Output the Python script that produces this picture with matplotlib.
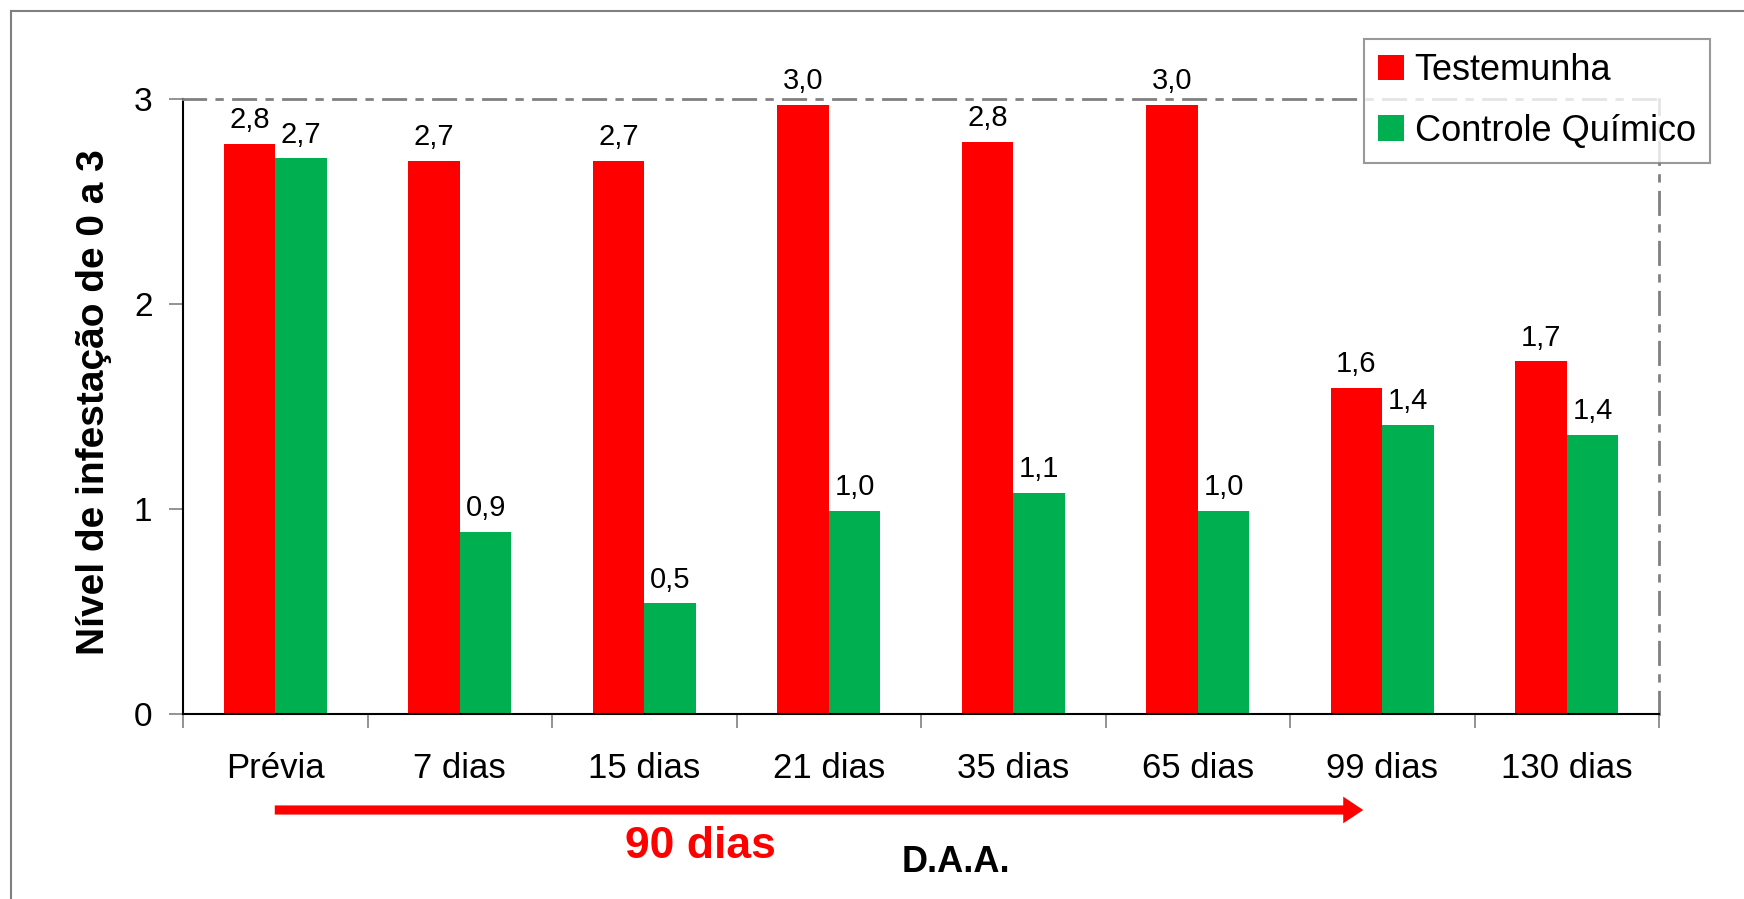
import matplotlib.pyplot as plt
from matplotlib.lines import Line2D
from matplotlib.patches import FancyArrowPatch
import numpy as np

plt.rcParams['font.family'] = ['Liberation Sans', 'DejaVu Sans']

categorias = ["Prévia", "7 dias", "15 dias", "21 dias", "35 dias", "65 dias", "99 dias", "130 dias"]
testemunha = [2.78, 2.70, 2.70, 2.97, 2.79, 2.97, 1.59, 1.72]
controle = [2.71, 0.89, 0.54, 0.99, 1.08, 0.99, 1.41, 1.36]
yticks = [0, 1, 2, 3]

cor_test = "#FF0000"
cor_ctrl = "#00B050"
cinza = "#808080"

fig = plt.figure(figsize=(17.44, 8.99), dpi=100)
ax = fig.add_axes([183/1744, 1-714/899, (1659-183)/1744, (714-99)/899])

x = np.arange(len(categorias))
w = 0.28
b1 = ax.bar(x - w/2, testemunha, w, color=cor_test, label="Testemunha")
b2 = ax.bar(x + w/2, controle, w, color=cor_ctrl, label="Controle Químico")

for bars, vals in [(b1, testemunha), (b2, controle)]:
    for r, v in zip(bars, vals):
        ax.annotate(f"{v:.1f}".replace(".", ","), (r.get_x() + r.get_width()/2, v),
                    xytext=(0, 7), textcoords="offset points",
                    ha="center", va="bottom", fontsize=21)

ax.set_xlim(-0.5, len(categorias) - 0.5)
ax.set_ylim(0, 3)
ax.set_yticks(yticks)
ax.set_yticklabels([str(t) for t in yticks], fontsize=24)
ax.set_xticks(x)
ax.set_xticklabels(categorias, fontsize=25)
ax.set_xticks(np.arange(len(categorias) + 1) - 0.5, minor=True)
ax.tick_params(axis="x", which="major", length=0, pad=27)
ax.tick_params(axis="x", which="minor", length=10, width=1.2, color=cinza, direction="out")
ax.tick_params(axis="y", length=10, width=1.2, color=cinza, pad=12)

for s in ["left", "bottom"]:
    ax.spines[s].set_color("black")
    ax.spines[s].set_linewidth(1.5)
for s in ["top", "right"]:
    ax.spines[s].set_color(cinza)
    ax.spines[s].set_linewidth(2)
    ax.spines[s].set_linestyle((0, (8, 4, 2, 4)))

leg = ax.legend(loc="upper left", bbox_to_anchor=(1364/1744, 1-39/899), bbox_transform=fig.transFigure,
                fontsize=26, frameon=True, fancybox=False, edgecolor=cinza,
                handlelength=0.7, handleheight=0.7, handletextpad=0.3, borderpad=0.4,
                labelspacing=0.7, borderaxespad=0)
leg.get_frame().set_linewidth(1.5)

fig.text(94/1744, 1-402/899, "Nível de infestação de 0 a 3", rotation=90,
         ha="center", va="center", fontsize=28, fontweight="bold")
fig.text(956/1744, 1-862/899, "D.A.A.", ha="center", va="center", fontsize=26, fontweight="bold")
fig.text(700/1744, 1-846/899, "90 dias", ha="center", va="center", fontsize=32,
         fontweight="bold", color=cor_test)

seta = FancyArrowPatch((272/1744, 1-810/899), (1366/1744, 1-810/899), transform=fig.transFigure,
                       arrowstyle="simple,head_length=1.2,head_width=1.6,tail_width=0.55",
                       mutation_scale=12, color=cor_test, lw=0)
fig.add_artist(seta)

fig.add_artist(Line2D([11/1744, 11/1744], [0, 1-11/899], transform=fig.transFigure, color=cinza, lw=1.5))
fig.add_artist(Line2D([11/1744, 1], [1-11/899, 1-11/899], transform=fig.transFigure, color=cinza, lw=1.5))

fig.savefig("out.png", dpi=100)
